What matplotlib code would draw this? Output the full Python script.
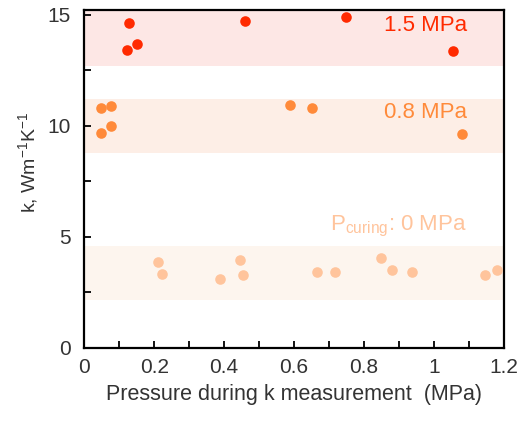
import matplotlib.pyplot as plt

plt.rcParams['font.family'] = ['Liberation Sans', 'DejaVu Sans']
plt.rcParams['mathtext.fontset'] = 'custom'
plt.rcParams['mathtext.rm'] = 'Liberation Sans'
plt.rcParams['mathtext.it'] = 'Liberation Sans'

# k values for each curing pressure
x_15 = [0.129, 0.461, 0.750, 0.1225, 0.152, 1.055]
k_15 = [14.61, 14.70, 14.89, 13.41, 13.68, 13.34]

x_08 = [0.048, 0.0757, 0.048, 0.0757, 0.589, 0.651, 1.080]
k_08 = [10.81, 10.88, 9.69, 9.97, 10.93, 10.79, 9.61]

x_00 = [0.2105, 0.222, 0.387, 0.444, 0.454, 0.665, 0.718, 0.848, 0.880, 0.936, 1.147, 1.180]
k_00 = [3.88, 3.34, 3.10, 3.94, 3.28, 3.43, 3.43, 4.03, 3.52, 3.43, 3.28, 3.50]

# shaded ranges (low, high)
band_15 = (12.7, 15.2)
band_08 = (8.77, 11.2)
band_00 = (2.16, 4.58)

red = '#ff2a00'
orange = '#ff8a3a'
light = '#ffc49c'

fig = plt.figure(figsize=(5.21, 4.21), dpi=100)
ax = fig.add_axes([0.1618, 0.1734, 0.8052, 0.8026])

ax.axhspan(*band_15, color='#fde7e5', lw=0, zorder=0)
ax.axhspan(*band_08, color='#fdeee6', lw=0, zorder=0)
ax.axhspan(*band_00, color='#fdf5ee', lw=0, zorder=0)

ax.scatter(x_15, k_15, s=58, color=red, lw=0, zorder=3)
ax.scatter(x_08, k_08, s=58, color=orange, lw=0, zorder=3)
ax.scatter(x_00, k_00, s=58, color=light, lw=0, zorder=3)

ax.text(1.095, 14.5, '1.5 MPa', color=red, fontsize=16, ha='right', va='center')
ax.text(1.095, 10.6, '0.8 MPa', color=orange, fontsize=16, ha='right', va='center')
ax.text(1.095, 5.45, r'P$_{\mathregular{curing}}$: 0 MPa', color=light, fontsize=16,
        ha='right', va='center')

ax.set_xlim(0, 1.2)
ax.set_ylim(0, 15.2)
ax.set_xticks([0, 0.2, 0.4, 0.6, 0.8, 1.0, 1.2])
ax.set_xticklabels(['0', '0.2', '0.4', '0.6', '0.8', '1', '1.2'])
ax.set_xticks([0.1, 0.3, 0.5, 0.7, 0.9, 1.1], minor=True)
ax.set_yticks([0, 5, 10, 15])
ax.set_yticks([2.5, 7.5, 12.5], minor=True)
ax.tick_params(which='both', direction='in', length=5, width=1.3, labelsize=15,
               colors='#000000', labelcolor='#333333')
ax.tick_params(axis='x', pad=7)
ax.tick_params(axis='y', pad=10)
for s in ax.spines.values():
    s.set_linewidth(1.6)

ax.set_xlabel('Pressure during k measurement  (MPa)', fontsize=15.5, color='#333333', labelpad=5)
ax.set_ylabel(r'k, Wm$^{\mathregular{-1}}$K$^{\mathregular{-1}}$', fontsize=14,
              color='#333333')
ax.yaxis.set_label_coords(-0.105, 0.55)

fig.savefig('out.png', dpi=100)
